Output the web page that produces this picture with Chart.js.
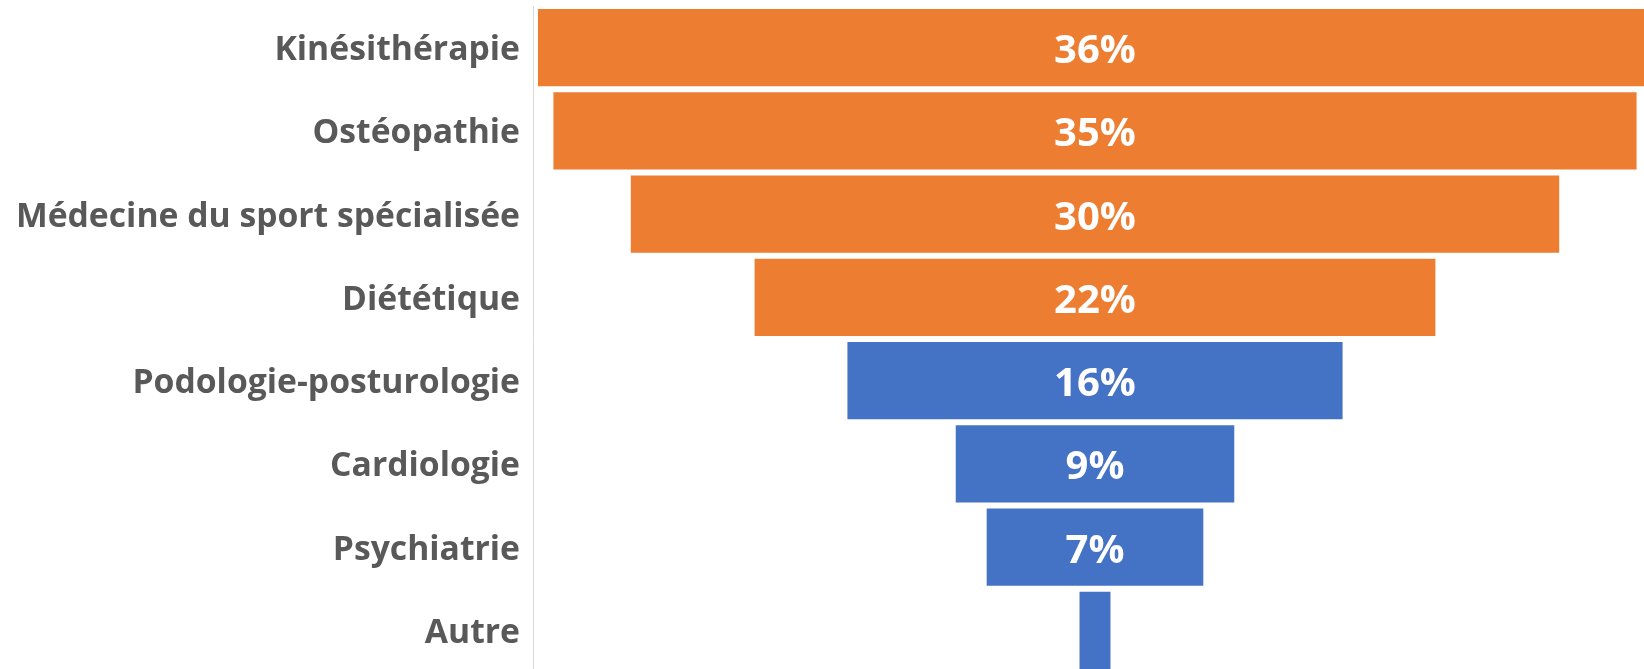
<!DOCTYPE html>
<html lang="fr">
<head>
<meta charset="utf-8">
<title>Spécialités consultées</title>
<script src="https://cdn.jsdelivr.net/npm/chart.js@4/dist/chart.umd.min.js"></script>
<style>
    html, body { margin: 0; padding: 0; background: #ffffff; overflow: hidden; }
    #wrap { position: relative; width: 1644px; height: 672px; }
</style>
</head>
<body>
<div id="wrap"><canvas id="funnelChart"></canvas></div>
<script>
// Funnel data (share of respondents, %)
const categories = [
    'Kinésithérapie',
    'Ostéopathie',
    'Médecine du sport spécialisée',
    'Diététique',
    'Podologie-posturologie',
    'Cardiologie',
    'Psychiatrie',
    'Autre'
];
const values = [36, 35, 30, 22, 16, 9, 7, 1];
const unlabelled = ['Autre'];

const barColors = ['#ED7D31', '#ED7D31', '#ED7D31', '#ED7D31', '#4472C4', '#4472C4', '#4472C4', '#4472C4'];
const fontFamily = '"Open Sans", "Noto Sans", sans-serif';

// Each bar floats around zero so the funnel stays centred
const funnelData = values.map(v => [-v / 2, v / 2]);

// Draws the white percentage in the middle of each bar
const centerLabels = {
    id: 'centerLabels',
    afterDatasetsDraw(chart) {
        const ctx = chart.ctx;
        const meta = chart.getDatasetMeta(0);
        ctx.save();
        ctx.fillStyle = '#ffffff';
        ctx.font = 'bold 40px ' + fontFamily;
        ctx.textAlign = 'center';
        ctx.textBaseline = 'middle';
        meta.data.forEach((bar, i) => {
            if (unlabelled.includes(categories[i])) return;
            const cx = (bar.x + bar.base) / 2;
            ctx.fillText(values[i] + '%', cx, bar.y + 4);
        });
        ctx.restore();
    }
};

const ctx = document.getElementById('funnelChart').getContext('2d');
new Chart(ctx, {
    type: 'bar',
    data: {
        labels: categories,
        datasets: [{
            data: funnelData,
            backgroundColor: barColors,
            borderWidth: 0,
            categoryPercentage: 1,
            barPercentage: 0.93
        }]
    },
    options: {
        indexAxis: 'y',
        responsive: true,
        maintainAspectRatio: false,
        animation: false,
        layout: { padding: { top: 6, right: 0, bottom: 0, left: 0 } },
        plugins: {
            legend: { display: false },
            tooltip: { enabled: false }
        },
        scales: {
            x: {
                display: false,
                min: -18.16,
                max: 17.74
            },
            y: {
                grid: { display: false },
                border: { display: true, color: '#d9d9d9', width: 1 },
                ticks: {
                    color: '#595959',
                    padding: 5,
                    labelOffset: 3,
                    font: { family: fontFamily, size: 33.7, weight: 'bold' }
                },
                afterFit(scale) {
                    // fixed axis width, and no extra room for the end labels
                    scale.width = 533;
                    scale.paddingTop = 0;
                    scale.paddingBottom = 0;
                }
            }
        }
    },
    plugins: [centerLabels]
});
</script>
</body>
</html>
